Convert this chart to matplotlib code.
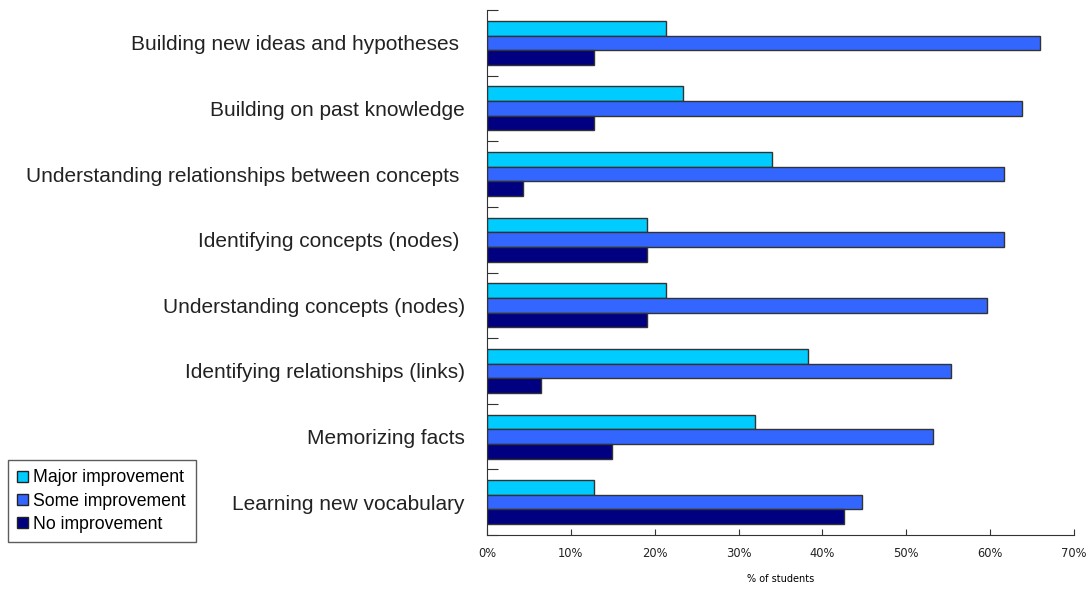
import numpy as np
import matplotlib.pyplot as plt
from matplotlib.patches import Patch

categories = ['Building new ideas and hypotheses ',
              'Building on past knowledge',
              'Understanding relationships between concepts ',
              'Identifying concepts (nodes) ',
              'Understanding concepts (nodes)',
              'Identifying relationships (links)',
              'Memorizing facts',
              'Learning new vocabulary']

major = [21.3, 23.4, 34.0, 19.1, 21.3, 38.3, 31.9, 12.8]
some = [66.0, 63.8, 61.7, 61.7, 59.6, 55.3, 53.2, 44.7]
none = [12.8, 12.8, 4.3, 19.1, 19.1, 6.4, 14.9, 42.6]

series = ['Major improvement', 'Some improvement', 'No improvement']
colors = ['#00CCFF', '#3366FF', '#000080']

plt.rcParams['font.family'] = ['Liberation Sans', 'DejaVu Sans']

fig = plt.figure(figsize=(10.92, 5.89), dpi=100)
ax = fig.add_axes([0.446, 0.0917, 0.5375, 0.8913])

y = np.arange(len(categories))
h = 0.223
for i, (vals, c) in enumerate(zip([major, some, none], colors)):
    ax.barh(y + (i - 1) * h, vals, height=h, color=c, edgecolor='#333333', linewidth=1.0)

ax.set_xlim(0, 70)
ax.set_ylim(len(categories) - 0.5, -0.5)
ax.set_xticks(np.arange(0, 71, 10))
ax.set_xticklabels([f'{v}%' for v in range(0, 71, 10)], family='DejaVu Sans', fontsize=8.3, color='#222222')
ax.tick_params(axis='x', direction='in', length=4, pad=9, color='#333333')

# boundary ticks between groups, labels centred on each group
ax.set_yticks(np.arange(-0.5, len(categories), 1))
ax.set_yticklabels([])
ax.tick_params(axis='y', which='major', direction='in', length=8, color='#333333')
ax.set_yticks(y, minor=True)
ax.set_yticklabels(categories, minor=True, fontsize=15, color='#222222')
ax.tick_params(axis='y', which='minor', length=0, pad=16)

for s in ['top', 'right']:
    ax.spines[s].set_visible(False)
for s in ['left', 'bottom']:
    ax.spines[s].set_color('#333333')

ax.set_xlabel('% of students', family='DejaVu Sans', fontsize=7, labelpad=10)

handles = [Patch(facecolor=c, edgecolor='#222222', label=s) for s, c in zip(series, colors)]
fig.legend(handles=handles, loc='lower left', bbox_to_anchor=(0.007, 0.079),
           fontsize=12.7, frameon=True, fancybox=False, edgecolor='#333333',
           handlelength=0.6, handleheight=0.6, handletextpad=0.3, borderpad=0.55,
           labelspacing=0.35, borderaxespad=0)

fig.savefig('out.png', dpi=100)
